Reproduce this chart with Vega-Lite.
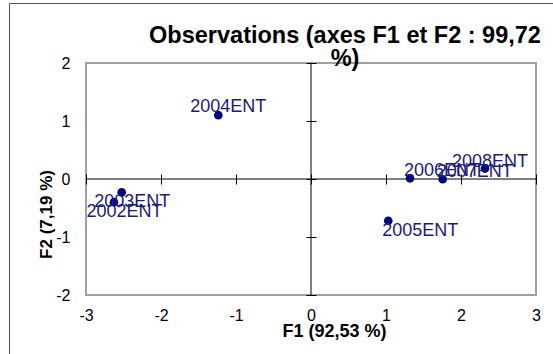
{
  "$schema": "https://vega.github.io/schema/vega-lite/v6.json",
  "width": 450,
  "height": 232,
  "autosize": "none",
  "padding": {"left": 86, "top": 63, "right": 17, "bottom": 59},
  "background": "white",
  "title": {
    "text": ["Observations (axes F1 et F2 : 99,72", "%)"],
    "fontSize": 23.5,
    "fontWeight": "bold",
    "font": "Liberation Sans",
    "color": "black",
    "anchor": "middle",
    "dx": 34,
    "baseline": "top",
    "offset": -68,
    "lineHeight": 23
  },
  "config": {
    "font": "Liberation Sans",
    "view": {"stroke": "#a0a0a0", "strokeWidth": 2},
    "axis": {
      "grid": false,
      "labelFont": "Liberation Sans",
      "labelFontSize": 16,
      "labelColor": "black",
      "titleFont": "Liberation Sans",
      "titleColor": "black",
      "labelFlush": false,
      "labelOverlap": false
    }
  },
  "data": {
    "values": [
      {"obs": "2002ENT", "F1": -2.627, "F2": -0.40},
      {"obs": "2003ENT", "F1": -2.524, "F2": -0.23},
      {"obs": "2004ENT", "F1": -1.236, "F2": 1.10},
      {"obs": "2005ENT", "F1": 1.03, "F2": -0.72},
      {"obs": "2006ENT", "F1": 1.32, "F2": 0.012},
      {"obs": "2007ENT", "F1": 1.756, "F2": -0.005},
      {"obs": "2008ENT", "F1": 2.32, "F2": 0.18}
    ]
  },
  "layer": [
    {
      "data": {"values": [{}]},
      "mark": {"type": "rect", "fillOpacity": 0, "stroke": "#555555", "strokeWidth": 1},
      "encoding": {
        "x": {"datum": -4.02, "type": "quantitative", "axis": null},
        "x2": {"datum": 4},
        "y": {"datum": 3.026, "type": "quantitative", "axis": null},
        "y2": {"datum": -3.3}
      }
    },
    {
      "data": {"values": [{}]},
      "mark": {"type": "rule", "color": "black", "strokeWidth": 1},
      "encoding": {
        "x": {
          "datum": -3, "type": "quantitative",
          "scale": {"domain": [-3, 3], "nice": false, "zero": false},
          "axis": {"orient": "bottom", "offset": -121, "values": [-3, -2, -1, 0, 1, 2, 3], "ticks": true, "tickSize": 10, "tickColor": "black", "labels": false, "domain": false, "title": null}
        },
        "x2": {"datum": 3},
        "y": {
          "datum": 0, "type": "quantitative",
          "scale": {"domain": [-2, 2], "nice": false, "zero": false},
          "axis": null
        }
      }
    },
    {
      "data": {"values": [{}]},
      "mark": {"type": "rule", "color": "black", "strokeWidth": 1},
      "encoding": {
        "x": {"datum": 0, "type": "quantitative", "axis": null},
        "y": {
          "datum": -2, "type": "quantitative",
          "axis": {"orient": "left", "offset": -230, "values": [-2, -1, 0, 1, 2], "ticks": true, "tickSize": 10, "tickColor": "black", "labels": false, "domain": false, "title": null}
        },
        "y2": {"datum": 2}
      }
    },
    {
      "mark": {"type": "circle", "size": 75, "color": "#000080", "opacity": 1},
      "encoding": {
        "x": {
          "field": "F1", "type": "quantitative",
          "axis": {"orient": "bottom", "values": [-3, -2, -1, 0, 1, 2, 3], "ticks": false, "domain": false, "labelPadding": 12, "labelExpr": "'' + datum.value", "title": "F1 (92,53 %)", "titleFontSize": 18, "titleFontWeight": "bold", "titleX": 248, "titleY": 41, "titleBaseline": "alphabetic", "titleAlign": "center"}
        },
        "y": {
          "field": "F2", "type": "quantitative",
          "axis": {"orient": "left", "values": [-2, -1, 0, 1, 2], "ticks": false, "domain": false, "labelPadding": 16, "labelExpr": "'' + datum.value", "title": "F2 (7,19 %)", "titleFontSize": 17, "titleFontWeight": "bold", "titleAngle": 270, "titleX": -35, "titleY": 151, "titleBaseline": "alphabetic", "titleAlign": "center"}
        }
      }
    },
    {
      "transform": [{"filter": {"field": "obs", "oneOf": ["2002ENT", "2003ENT"]}}],
      "mark": {"type": "text", "align": "left", "baseline": "middle", "dx": -27.5, "dy": 10, "fontSize": 18, "color": "#1a1a80"},
      "encoding": {
        "x": {"field": "F1", "type": "quantitative", "axis": null},
        "y": {"field": "F2", "type": "quantitative", "axis": null},
        "text": {"field": "obs"}
      }
    },
    {
      "transform": [{"filter": {"field": "obs", "equal": "2004ENT"}}],
      "mark": {"type": "text", "align": "left", "baseline": "middle", "dx": -28, "dy": -8, "fontSize": 18, "color": "#1a1a80"},
      "encoding": {
        "x": {"field": "F1", "type": "quantitative", "axis": null},
        "y": {"field": "F2", "type": "quantitative", "axis": null},
        "text": {"field": "obs"}
      }
    },
    {
      "transform": [{"filter": {"field": "obs", "equal": "2005ENT"}}],
      "mark": {"type": "text", "align": "left", "baseline": "middle", "dx": -6, "dy": 10, "fontSize": 18, "color": "#1a1a80"},
      "encoding": {
        "x": {"field": "F1", "type": "quantitative", "axis": null},
        "y": {"field": "F2", "type": "quantitative", "axis": null},
        "text": {"field": "obs"}
      }
    },
    {
      "transform": [{"filter": {"field": "obs", "oneOf": ["2006ENT", "2007ENT"]}}],
      "mark": {"type": "text", "align": "left", "baseline": "middle", "dx": -6, "dy": -7.5, "fontSize": 18, "color": "#1a1a80"},
      "encoding": {
        "x": {"field": "F1", "type": "quantitative", "axis": null},
        "y": {"field": "F2", "type": "quantitative", "axis": null},
        "text": {"field": "obs"}
      }
    },
    {
      "transform": [{"filter": {"field": "obs", "equal": "2008ENT"}}],
      "mark": {"type": "text", "align": "left", "baseline": "middle", "dx": -33, "dy": -7, "fontSize": 18, "color": "#1a1a80"},
      "encoding": {
        "x": {"field": "F1", "type": "quantitative", "axis": null},
        "y": {"field": "F2", "type": "quantitative", "axis": null},
        "text": {"field": "obs"}
      }
    }
  ],
  "resolve": {"axis": {"x": "independent", "y": "independent"}}
}
